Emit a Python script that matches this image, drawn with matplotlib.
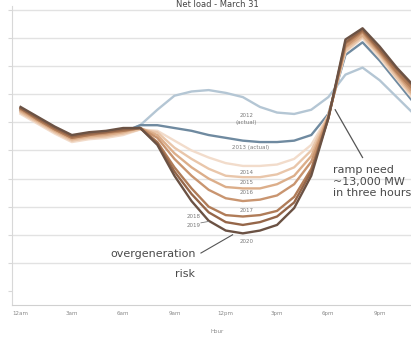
import matplotlib
matplotlib.use("Agg")
import matplotlib.pyplot as plt

# net load, thousand MW, one value per hour (12am .. 11pm)
hours = list(range(24))
tick_hours = [0, 3, 6, 9, 12, 15, 18, 21]
tick_labels = ["12am", "3am", "6am", "9am", "12pm", "3pm", "6pm", "9pm"]

load_2012 = [20.9, 20.2, 19.4, 18.8, 19.0, 19.1, 19.3, 19.8, 20.9, 21.9, 22.2, 22.3,
             22.1, 21.8, 21.1, 20.7, 20.6, 20.9, 21.8, 23.4, 23.9, 23.0, 21.8, 20.6]
load_2013 = [20.9, 20.2, 19.4, 18.8, 19.0, 19.1, 19.3, 19.8, 19.8, 19.6, 19.4, 19.1,
             18.9, 18.7, 18.6, 18.6, 18.7, 19.1, 20.6, 24.8, 25.7, 24.4, 22.9, 21.4]
load_2014 = [20.6, 19.9, 19.2, 18.6, 18.8, 18.9, 19.1, 19.5, 19.4, 18.7, 18.0, 17.5,
             17.1, 16.9, 16.9, 17.0, 17.4, 18.4, 20.5, 25.0, 26.0, 24.6, 23.1, 21.6]
load_2015 = [20.7, 20.0, 19.3, 18.7, 18.9, 19.0, 19.2, 19.5, 19.3, 18.2, 17.4, 16.7,
             16.2, 16.1, 16.1, 16.3, 16.8, 18.0, 20.5, 25.1, 26.1, 24.8, 23.2, 21.8]
load_2016 = [20.8, 20.1, 19.4, 18.8, 19.0, 19.1, 19.3, 19.6, 19.1, 17.8, 16.8, 16.0,
             15.4, 15.3, 15.3, 15.6, 16.2, 17.6, 20.4, 25.3, 26.2, 24.9, 23.4, 21.9]
load_2017 = [20.9, 20.2, 19.5, 18.9, 19.1, 19.2, 19.4, 19.6, 18.9, 17.4, 16.2, 15.2,
             14.6, 14.4, 14.5, 14.8, 15.6, 17.2, 20.4, 25.4, 26.4, 25.0, 23.5, 22.1]
load_2018 = [21.0, 20.2, 19.5, 18.9, 19.1, 19.3, 19.4, 19.6, 18.6, 16.8, 15.3, 14.0,
             13.4, 13.3, 13.4, 13.7, 14.7, 16.7, 20.3, 25.6, 26.5, 25.1, 23.6, 22.3]
load_2019 = [21.0, 20.3, 19.6, 19.0, 19.2, 19.3, 19.5, 19.6, 18.5, 16.5, 14.9, 13.6,
             12.9, 12.7, 12.9, 13.3, 14.3, 16.5, 20.3, 25.7, 26.6, 25.2, 23.8, 22.5]
load_2020 = [21.1, 20.4, 19.7, 19.1, 19.3, 19.4, 19.6, 19.6, 18.4, 16.2, 14.4, 13.0,
             12.3, 12.1, 12.3, 12.7, 13.9, 16.2, 20.3, 25.9, 26.7, 25.4, 23.9, 22.6]

series = [load_2012, load_2013, load_2014, load_2015, load_2016,
          load_2017, load_2018, load_2019, load_2020]
colors = ["#b4c6d4", "#6f8aa0", "#f2dccb", "#e9c6aa", "#dcae8a",
          "#c99570", "#b07c58", "#956649", "#6b5244"]

plt.rcParams["font.family"] = ["DejaVu Sans"]

fig = plt.figure(figsize=(4.11, 3.39), dpi=100)
# plot area runs past the right edge, the picture is cropped there
ax = fig.add_axes([12 / 411, 34 / 339, 410.4 / 411, 299.2 / 339])

for yv in range(10, 29, 2):
    ax.axhline(yv, color="#e2e2e2", lw=1.0, zorder=0)

for vals, c in zip(series, colors):
    ax.plot(hours, vals, color=c, lw=1.7, solid_joinstyle="round")

ax.set_xlim(-0.5, 23.5)
ax.set_ylim(7.0, 28.3)
ax.set_yticks(range(8, 29, 2))
ax.set_yticklabels([])
ax.set_xticks(tick_hours)
ax.set_xticklabels(tick_labels, fontsize=4, color="#8a8a8a")
ax.tick_params(axis="y", length=3, color="#d8d8d8", width=0.8)
ax.tick_params(axis="x", length=0, pad=4)
ax.set_xlabel("Hour", fontsize=4, color="#8a8a8a", labelpad=10)
for side in ["top", "right"]:
    ax.spines[side].set_visible(False)
ax.spines["left"].set_color("#d8d8d8")
ax.spines["bottom"].set_color("#d0d0d0")

# series labels
lab = dict(fontsize=4, color="#7a7a7a", ha="center", va="center")
ax.text(13.2, 20.25, "2012\n(actual)", linespacing=1.5, **lab)
ax.text(13.45, 18.2, "2013 (actual)", **lab)
ax.text(13.25, 16.45, "2014", **lab)
ax.text(13.25, 15.7, "2015", **lab)
ax.text(13.25, 15.0, "2016", **lab)
ax.text(13.25, 13.7, "2017", **lab)
ax.text(10.1, 13.3, "2018", **lab)
ax.text(10.1, 12.65, "2019", **lab)
ax.text(13.25, 11.55, "2020", **lab)
ax.plot([10.55, 11.0], [12.85, 12.95], color="#7a7a7a", lw=0.6)

big = dict(fontsize=8, color="#4a4a4a")
ax.text(10.23, 10.64, "overgeneration", ha="right", va="center", **big)
ax.text(10.23, 9.2, "risk", ha="right", va="center", **big)
ax.plot([10.55, 12.4], [10.7, 12.0], color="#555555", lw=0.8)

ax.text(18.25, 16.95, "ramp need\n~13,000 MW\nin three hours",
        ha="left", va="top", linespacing=1.2, **big)
ax.plot([18.4, 20.0], [20.9, 17.5], color="#555555", lw=0.9)

fig.text(0.53, 1.0, "Net load - March 31", fontsize=6,
         color="#444444", ha="center", va="top")

fig.savefig("out.png", dpi=100)
